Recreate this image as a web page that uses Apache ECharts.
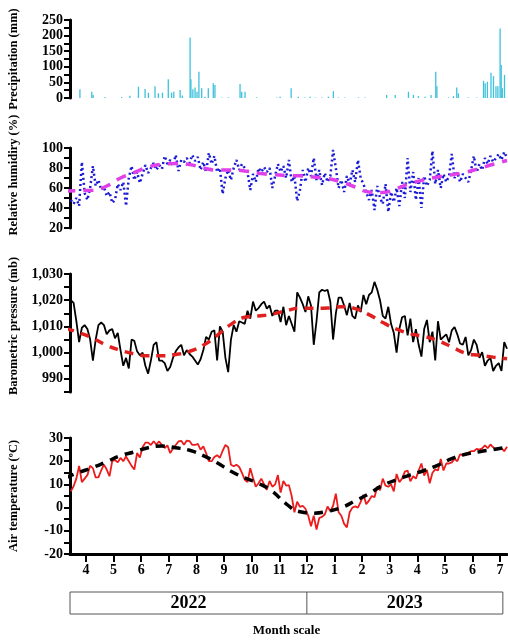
<!DOCTYPE html>
<html>
<head>
<meta charset="utf-8">
<script src="https://cdn.jsdelivr.net/npm/echarts@6/dist/echarts.min.js"></script>
<style>
  html, body { margin: 0; padding: 0; background: #fff; }
  #chart { width: 508px; height: 641px; }
</style>
</head>
<body>
<div id="chart"></div>
<script>
const monthStart = 3.45
const monthStep = 0.1

const humidity = [
  48, 44, 50, 42, 86, 55, 48, 60, 82, 62,
  68, 58, 61, 52, 56, 45, 48, 64, 58, 66,
  42, 70, 82, 68, 76, 65, 74, 83, 75, 80,
  85, 78, 83, 79, 92, 84, 88, 82, 93, 77,
  88, 86, 90, 85, 93, 87, 91, 78, 86, 76,
  95, 84, 92, 76, 80, 54, 70, 78, 68, 80,
  88, 78, 84, 80, 76, 58, 74, 66, 80, 76,
  81, 76, 80, 60, 72, 84, 76, 82, 70, 88,
  66, 72, 47, 58, 78, 66, 80, 72, 90, 68,
  78, 63, 75, 66, 72, 98, 80, 60, 68, 56,
  72, 64, 78, 66, 88, 70, 64, 56, 48, 58,
  38, 62, 50, 44, 64, 36, 56, 46, 60, 42,
  66, 50, 90, 56, 76, 48, 70, 40, 72, 62,
  68, 97, 64, 78, 60, 74, 66, 72, 94, 70,
  76, 66, 74, 70, 66, 78, 92, 76, 84, 78,
  90, 84, 92, 86, 90, 94, 88, 96, 90
]

const pressure = [
  1020, 1019, 1012, 1004, 1009.5, 1010.5, 1009, 1005, 997, 1005,
  1010.5, 1011.5, 1010.5, 1007, 1008.5, 1009, 1005.5, 1007.5, 1001, 995,
  998, 994, 1005, 1004.5, 1000.5, 999, 1000, 995, 992, 997,
  1003, 1004, 997, 997, 996, 993, 994.5, 998, 1000.5, 1002,
  1003, 999, 1001, 999.5, 998.5, 997, 995.5, 997.5, 1001, 1006,
  1005, 1008, 1008.5, 997, 1010, 1008, 998, 992.6, 1005, 1010.5,
  1008, 1012, 1011.5, 1011, 1016, 1013, 1019.5, 1016, 1017, 1018.5,
  1019.5, 1016.8, 1018, 1014, 1016, 1016, 1011.7, 1017.5, 1010.5, 1014,
  1011, 1008, 1023, 1021, 1018.5, 1015.5, 1021.5, 1018, 1003, 1012,
  1023, 1024, 1023.5, 1024, 1019.4, 1005, 1015, 1021, 1021, 1018,
  1014.3, 1019, 1014, 1013, 1018, 1015.5, 1022, 1018.5, 1022, 1023,
  1027, 1024, 1020, 1014, 1013, 1017.5, 1011, 1007.5, 1000, 1009,
  1013.5, 1014, 1006.6, 1013, 1004, 1009, 1003, 998.5, 1009, 1012.5,
  1004, 1008, 997, 1012, 1005, 1006, 1007, 1004, 1008.5, 1009.8,
  1007, 1003.5, 1003, 1006, 999, 1001, 1005, 1003, 998, 1000.2,
  995, 997, 998, 993, 995, 996, 993, 1004, 1001.5
]

const temperature = [
  7, 9.2, 12.5, 18, 11, 12.5, 14, 18, 17, 13,
  13, 16, 18.5, 16.4, 13.5, 20, 20.5, 19.5, 21.4, 20,
  22, 20, 18, 16.4, 23.5, 21.6, 26, 28, 28, 27,
  28.6, 27.2, 28.5, 27, 25.7, 26.8, 23.5, 25.5, 27, 28.5,
  28.8, 27.1, 28.9, 28.7, 27, 27, 27.5, 25, 26.4, 23.5,
  20, 20, 21.8, 22.6, 21.5, 24.5, 27, 26, 18.5, 17.8,
  18.5, 17.5, 15, 12, 11, 17, 12.8, 9, 10.5, 12.5,
  10, 7.7, 11.5, 9, 10, 14, 6.5, 11.5, 9.5, 9.7,
  5, -2, 2.5, 0.3, 0.8, -0.5, -3.5, -8, -3.5, -9.5,
  -4.5, -4, -3, 0.5, -1.6, 0.8, 6, -2, -3.5, -7,
  -8.5, -2, 0, 0.5, 0, 2.5, 5.5, 1.5, 3, 5,
  4.5, 9, 7.5, 12.5, 9.5, 9, 10, 7, 14.5, 11,
  12.5, 15.5, 16, 11.3, 13.5, 12.5, 16, 19, 13.8, 16.2,
  10.5, 15, 16.5, 16, 21, 16, 19, 19, 19.5, 21,
  20, 23, 22.5, 22.8, 23.5, 24.3, 24.3, 25.3, 25, 25.5,
  26.8, 25.6, 27.2, 26, 25, 25.2, 25.5, 24.3, 26.2
]

// fitted seasonal curves, read every half month from 3.25
const trendStart = 3.25
const trendStep = 0.5
const humidityTrend = [
  57, 57.3, 57.8, 62, 70, 75.5, 81, 83.8, 84.5, 83.5, 80,
  78, 78, 77, 74.8, 73.4, 72.5, 72.2, 71, 69.5, 66, 61,
  56, 55.5, 59.5, 64.5, 68.2, 71, 73.3, 75.8, 79.5, 83.8, 87.5
]
const pressureTrend = [
  1009.3, 1007.6, 1005.5, 1002.8, 1000.9, 999.5, 998.8, 998.8, 999.3, 1000.5, 1002.8,
  1006.6, 1010.8, 1013.5, 1014, 1014.7, 1016, 1017, 1016.9, 1017, 1017.5, 1016.8,
  1014.5, 1011.5, 1009, 1007.2, 1006.2, 1004.6, 1002.2, 999.8, 999, 998.3, 997.7
]
const temperatureTrend = [
  12.8, 15.2, 17.3, 19.8, 22.4, 24, 25.8, 26.5, 25.8, 24.7, 22.4,
  19.3, 15.7, 12.8, 10.4, 7, 1.6, -1.8, -2.4, -1.6, 0, 2.9,
  6, 9.6, 12, 14.1, 16, 18.3, 21.1, 23, 24.1, 25, 26
]

// rain days (month position) and amounts
const rainMonth = [
  3.78, 4.21, 4.26, 4.69, 5.29, 5.59, 5.9, 6.14, 6.26, 6.5, 6.62, 6.77, 6.98, 7.1, 7.18,
  7.41, 7.49, 7.77, 7.8, 7.87, 7.95, 8.02, 8.09, 8.19, 8.31, 8.43, 8.61, 8.67, 8.92, 9.16,
  9.58, 9.64, 9.76, 10.18, 10.91, 11.03, 11.43, 11.69, 11.93, 12.12, 12.3, 12.54, 12.78, 12.96,
  13.14, 13.38, 13.87, 14.11, 14.89, 15.2, 15.68, 15.86, 16.04, 16.28, 16.5, 16.67, 16.71,
  17.13, 17.31, 17.43, 17.49, 17.85, 18.16, 18.4, 18.46, 18.54, 18.67, 18.76, 18.85, 18.92,
  19.0, 19.04, 19.08, 19.16
]
const rainMm = [
  28, 20, 10, 3, 3, 7, 36, 29, 17, 38, 15, 17, 60, 17, 20,
  26, 8, 194, 60, 28, 34, 20, 84, 31, 4, 31, 47, 42, 2, 2,
  45, 20, 20, 2, 2, 4, 31, 4, 2, 4, 2, 2, 4, 22,
  2, 2, 2, 2, 10, 10, 20, 10, 6, 4, 10, 84, 38,
  2, 6, 34, 15, 2, 2, 55, 47, 52, 81, 70, 38, 38,
  223, 106, 31, 74
]

const monthTicks = [4, 5, 6, 7, 8, 9, 10, 11, 12, 13, 14, 15, 16, 17, 18, 19]
const years = ["2022", "2023"]
const xMin = 3.42
const xMax = 19.25
const yearBreak = 12

const font = "Liberation Serif"
const pairs = (start, step, arr) => arr.map((v, i) => [+(start + i * step).toFixed(2), v])

const chart = echarts.init(document.getElementById("chart"))

const grids = [
  { top: 20, height: 78 },
  { top: 148, height: 80 },
  { top: 274, height: 118 },
  { top: 438, height: 116 }
].map(g => Object.assign({ left: 70, right: 1, outerBoundsMode: "none", containLabel: false }, g))

function xAxisFor(i) {
  const bottom = i === 3
  return {
    gridIndex: i,
    type: "value",
    min: xMin,
    max: xMax,
    show: bottom,
    axisLine: { show: bottom, onZero: false, lineStyle: { color: "#000", width: 3 } },
    axisTick: {
      show: bottom,
      customValues: monthTicks,
      length: 8,
      lineStyle: { color: "#000", width: 2 }
    },
    axisLabel: {
      show: bottom,
      customValues: monthTicks,
      formatter: v => (v > 12 ? v - 12 : v),
      color: "#000",
      fontFamily: font,
      fontWeight: "bold",
      fontSize: 14,
      margin: 9
    },
    splitLine: { show: false }
  }
}

function yAxisFor(i, name, min, max, interval, minor, formatter, padding) {
  return {
    gridIndex: i,
    type: "value",
    min,
    max,
    interval,
    name,
    nameLocation: "middle",
    nameGap: 50,
    nameTextStyle: {
      color: "#000",
      fontFamily: font,
      fontWeight: "bold",
      fontSize: 12.5,
      padding: padding || 0
    },
    axisLine: { show: true, onZero: false, lineStyle: { color: "#000", width: 3 } },
    axisTick: { show: true, length: 6, lineStyle: { color: "#000", width: 2 } },
    minorTick: { show: minor > 0, splitNumber: minor || 5, length: 6, lineStyle: { color: "#000", width: 2 } },
    axisLabel: {
      color: "#000",
      fontFamily: font,
      fontWeight: "bold",
      fontSize: 14,
      margin: 7,
      formatter: formatter || "{value}"
    },
    splitLine: { show: false }
  }
}

chart.setOption({
  animation: false,
  backgroundColor: "#fff",
  grid: grids,
  xAxis: [0, 1, 2, 3].map(xAxisFor),
  yAxis: [
    yAxisFor(0, "Precipitation (mm)", 0, 250, 50, 2),
    yAxisFor(1, "Relative humidiry (%)", 20, 100, 20, 2, null, [0, 0, 0, 26]),
    yAxisFor(2, "Barometric pressure (mb)", 985, 1030, 5, 0,
      v => (v % 10 === 0 ? v.toLocaleString("en-US") : ""), [0, 0, 0, 14]),
    yAxisFor(3, "Air temperature (ºC)", -20, 30, 10, 2)
  ],
  series: [
    {
      name: "Precipitation",
      type: "bar",
      xAxisIndex: 0,
      yAxisIndex: 0,
      barWidth: 1.3,
      itemStyle: { color: "#3dc1dc" },
      data: rainMonth.map((m, i) => [m, rainMm[i]])
    },
    {
      name: "Relative humidity",
      type: "line",
      xAxisIndex: 1,
      yAxisIndex: 1,
      showSymbol: false,
      lineStyle: { color: "#1a1ad6", width: 2.5, type: [2, 3] },
      data: pairs(monthStart, monthStep, humidity)
    },
    {
      name: "Humidity trend",
      type: "line",
      xAxisIndex: 1,
      yAxisIndex: 1,
      smooth: true,
      showSymbol: false,
      lineStyle: { color: "#e040e8", width: 3.5, type: [10, 8] },
      data: pairs(trendStart, trendStep, humidityTrend)
    },
    {
      name: "Barometric pressure",
      type: "line",
      xAxisIndex: 2,
      yAxisIndex: 2,
      showSymbol: false,
      lineStyle: { color: "#000", width: 1.8 },
      data: pairs(monthStart, monthStep, pressure)
    },
    {
      name: "Pressure trend",
      type: "line",
      xAxisIndex: 2,
      yAxisIndex: 2,
      smooth: true,
      showSymbol: false,
      lineStyle: { color: "#e0201e", width: 3.5, type: [9, 7] },
      data: pairs(trendStart, trendStep, pressureTrend)
    },
    {
      name: "Air temperature",
      type: "line",
      xAxisIndex: 3,
      yAxisIndex: 3,
      showSymbol: false,
      lineStyle: { color: "#ec1c1c", width: 1.8 },
      data: pairs(monthStart, monthStep, temperature)
    },
    {
      name: "Temperature trend",
      type: "line",
      xAxisIndex: 3,
      yAxisIndex: 3,
      smooth: true,
      showSymbol: false,
      lineStyle: { color: "#000", width: 3.5, type: [9, 7] },
      data: pairs(trendStart, trendStep, temperatureTrend)
    }
  ]
})

// year band under the month labels
const px = m => chart.convertToPixel({ xAxisIndex: 3 }, m)
const boxLeft = px(xMin)
const boxRight = px(19.1)
const boxMid = px(yearBreak)
const boxTop = 592
const boxH = 22
const yearText = (x, text) => ({
  type: "text",
  x,
  y: boxTop + boxH / 2,
  style: {
    text,
    fill: "#000",
    font: "bold 18px " + font,
    align: "center",
    verticalAlign: "middle"
  }
})

chart.setOption({
  graphic: [
    {
      type: "rect",
      shape: { x: boxLeft, y: boxTop, width: boxRight - boxLeft, height: boxH },
      style: { fill: "none", stroke: "#555", lineWidth: 1 }
    },
    {
      type: "line",
      shape: { x1: boxMid, y1: boxTop, x2: boxMid, y2: boxTop + boxH },
      style: { stroke: "#555", lineWidth: 1 }
    },
    yearText((boxLeft + boxMid) / 2, years[0]),
    yearText((boxMid + boxRight) / 2, years[1]),
    {
      type: "text",
      x: (boxLeft + boxRight) / 2,
      y: 631,
      style: {
        text: "Month scale",
        fill: "#000",
        font: "bold 13px " + font,
        align: "center",
        verticalAlign: "middle"
      }
    }
  ]
})
</script>
</body>
</html>
